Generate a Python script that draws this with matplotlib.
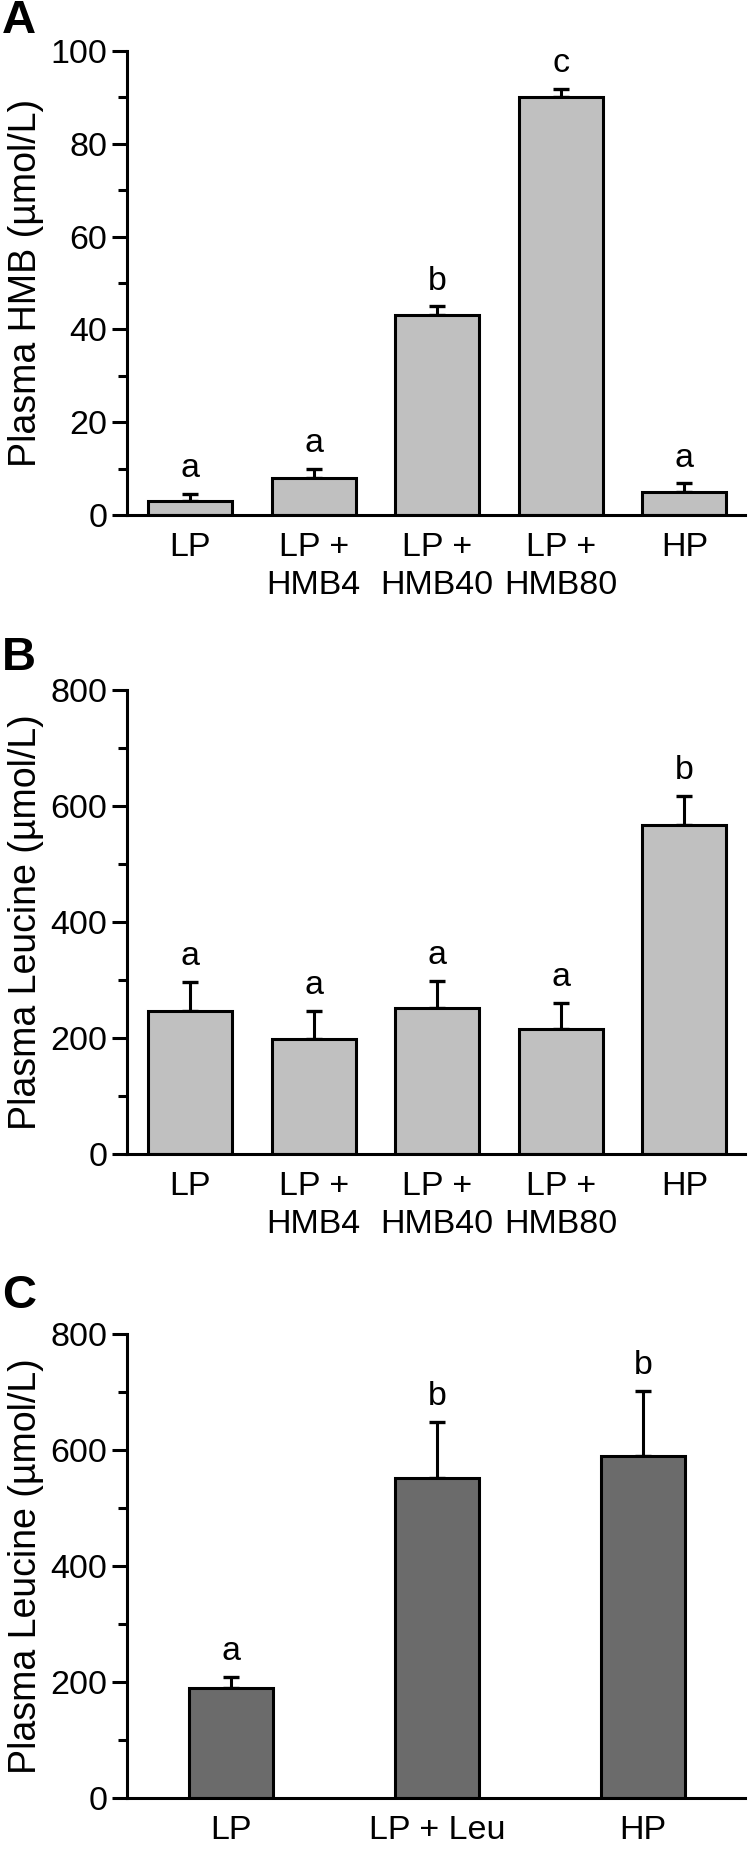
import matplotlib
matplotlib.use("Agg")
import matplotlib.pyplot as plt
from matplotlib.ticker import MultipleLocator
from matplotlib import font_manager

_names = {f.name for f in font_manager.fontManager.ttflist}
HAS_NARROW = "Liberation Sans Narrow" in _names
NARROW = ["Liberation Sans Narrow", "DejaVu Sans"] if HAS_NARROW else ["Liberation Sans", "DejaVu Sans"]
plt.rcParams['font.family'] = NARROW

# ---- data ----
groups_ab = ["LP", "LP +\nHMB4", "LP +\nHMB40", "LP +\nHMB80", "HP"]
hmb_mean = [3.1, 7.9, 43.0, 90.0, 4.9]
hmb_sem = [1.4, 2.0, 2.0, 1.9, 1.9]
hmb_letters = ["a", "a", "b", "c", "a"]

leu_b_mean = [246, 198, 251, 215, 567]
leu_b_sem = [51, 49, 48, 46, 51]
leu_b_letters = ["a", "a", "a", "a", "b"]

groups_c = ["LP", "LP + Leu", "HP"]
leu_c_mean = [190, 551, 590]
leu_c_sem = [19, 97, 112]
leu_c_letters = ["a", "b", "b"]

W, H = 750, 1855
fig = plt.figure(figsize=(W / 100, H / 100), dpi=100)

FS = 27 if HAS_NARROW else 24.5
YFS = 27

def px_axes(left, top, right, bottom):
    return fig.add_axes([left / W, 1 - bottom / H, (right - left) / W, (bottom - top) / H])

def style(ax, ymax, major, minor, ylabel, top, bottom):
    for s in ["top", "right"]:
        ax.spines[s].set_visible(False)
    for s in ["left", "bottom"]:
        ax.spines[s].set_linewidth(2.2)
    ax.set_ylim(0, ymax)
    ax.yaxis.set_major_locator(MultipleLocator(major))
    ax.yaxis.set_minor_locator(MultipleLocator(minor))
    ax.tick_params(axis="y", which="major", length=11, width=2.2, labelsize=FS, pad=3)
    ax.tick_params(axis="y", which="minor", length=6.5, width=2.2)
    ax.tick_params(axis="x", length=0, labelsize=FS, pad=12)
    fig.text(26 / W, 1 - (top + bottom) / 2 / H, ylabel, rotation=90, ha="center", va="center",
             fontsize=YFS, family=["Liberation Sans", "DejaVu Sans"])

def draw(ax, labels, means, sems, letters, color, width):
    x = list(range(len(labels)))
    ax.bar(x, means, width=width, color=color, edgecolor="black", linewidth=2.2, zorder=2)
    ax.errorbar(x, means, yerr=[[0] * len(sems), sems], fmt="none", ecolor="black",
                elinewidth=2.2, capsize=5.5, capthick=2.4, zorder=1)
    for xi, m, s, t in zip(x, means, sems, letters):
        ax.annotate(t, (xi, m + s), xytext=(0, 12), textcoords="offset points",
                    ha="center", va="baseline", fontsize=FS)
    ax.set_xticks(x)
    ax.set_xticklabels(labels, linespacing=1.3)

# Panel A
axA = px_axes(127, 51, 745, 515)
draw(axA, groups_ab, hmb_mean, hmb_sem, hmb_letters, "#c0c0c0", 0.68)
axA.set_xlim(-0.51, 4.49)
style(axA, 100, 20, 10, "Plasma HMB (µmol/L)", 51, 515)

# Panel B
axB = px_axes(127, 690, 745, 1154)
draw(axB, groups_ab, leu_b_mean, leu_b_sem, leu_b_letters, "#c0c0c0", 0.68)
axB.set_xlim(-0.51, 4.49)
style(axB, 800, 200, 100, "Plasma Leucine (µmol/L)", 690, 1154)

# Panel C
axC = px_axes(127, 1334, 745, 1798)
draw(axC, groups_c, leu_c_mean, leu_c_sem, leu_c_letters, "#6b6b6b", 0.41)
axC.set_xlim(-0.505, 2.495)
style(axC, 800, 200, 100, "Plasma Leucine (µmol/L)", 1334, 1798)

for letter, ypx in [("A", 21), ("B", 658), ("C", 1296)]:
    fig.text(2 / W, 1 - ypx / H, letter, fontsize=34, fontweight="bold", va="center", ha="left",
             family=["Liberation Sans", "DejaVu Sans"])

fig.savefig("out.png", dpi=100)
